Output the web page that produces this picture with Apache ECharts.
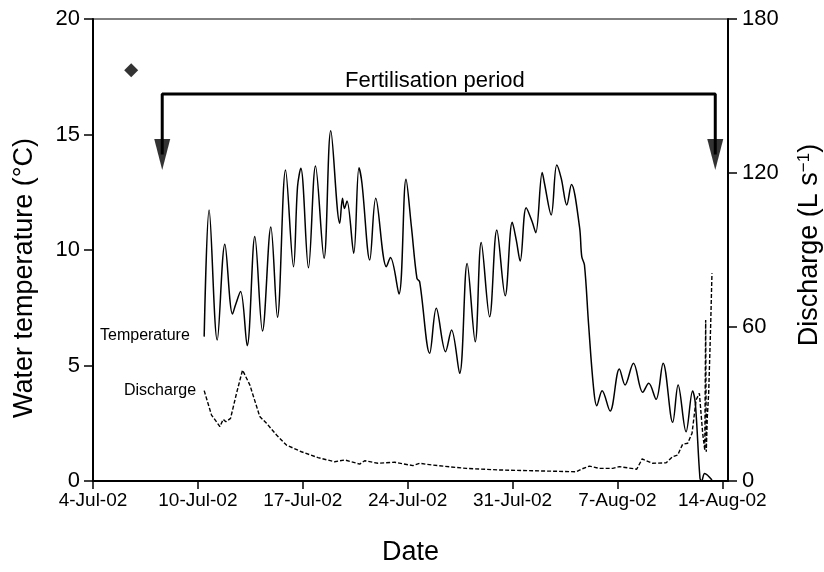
<!DOCTYPE html>
<html>
<head>
<meta charset="utf-8">
<script src="https://cdn.jsdelivr.net/npm/echarts@6/dist/echarts.min.js"></script>
<style>
  html, body { margin: 0; padding: 0; background: #fff; }
  #chart { width: 824px; height: 572px; }
</style>
</head>
<body>
<div id="chart"></div>
<script>
// tick labels on the date axis (one every 7 days)
var dateLabels = ['4-Jul-02', '10-Jul-02', '17-Jul-02', '24-Jul-02', '31-Jul-02', '7-Aug-02', '14-Aug-02'];

// water temperature, days after the first tick
var tempDay = [7.42, 7.75, 8.29, 8.8, 9.31, 9.51, 9.85, 10.29, 10.8, 11.31, 11.87, 12.31, 12.85, 13.38, 13.65, 13.87,
  14.38, 14.85, 15.42, 15.87, 16.47, 16.65, 16.78, 16.95, 17.4, 17.75, 17.95, 18.47, 18.87, 19.58, 19.85, 20.42,
  20.89, 21.25, 21.62, 21.8, 22.47, 22.91, 23.53, 23.93, 24.47, 24.97, 25.51, 25.91, 26.47, 26.95, 27.51, 27.98,
  28.25, 28.51, 28.91, 29.31, 29.55, 29.98, 30.13, 30.58, 30.95, 31.25, 31.62, 31.93, 32.47, 32.62, 32.8, 33.07,
  33.4, 33.62, 33.98, 34.51, 35.13, 35.51, 36.07, 36.69, 37.09, 37.58, 38.05, 38.69, 39.05, 39.58, 40.02, 40.2,
  40.51, 40.62, 40.82, 41.31];
var tempC = [6.25, 11.73, 6.1, 10.25, 7.23, 7.62, 8.2, 5.86, 10.58, 6.49, 11.0, 7.09, 13.46, 9.28, 12.74, 13.54,
  9.23, 13.64, 9.64, 15.16, 11.16, 12.24, 11.8, 12.12, 9.86, 13.56, 12.89, 9.57, 12.24, 9.28, 9.67, 8.1,
  13.06, 11.01, 8.77, 8.63, 5.53, 7.48, 5.6, 6.54, 4.66, 9.42, 6.03, 10.32, 7.11, 10.87, 8.02, 11.2,
  10.43, 9.52, 11.83, 11.22, 10.75, 13.36, 12.89, 11.52, 13.68, 13.1, 11.95, 12.84, 11.0, 9.71, 9.35, 6.83,
  4.08, 3.26, 3.91, 3.03, 4.85, 4.16, 5.1, 3.84, 4.23, 3.54, 5.1, 2.54, 4.16, 2.13, 3.9, 3.36,
  0.12, 0.0, 0.33, 0.04];

// discharge (L s-1)
var flowDay = [7.42, 7.91, 8.47, 8.69, 8.87, 9.18, 9.58, 9.98, 10.47, 11.13, 11.58, 12.25, 12.91, 13.91, 15.02,
  16.13, 16.8, 17.8, 18.13, 19.02, 20.13, 21.35, 21.8, 22.67, 24.91, 27.13, 29.33, 32.25, 32.58, 33.13, 33.8,
  34.69, 35.13, 36.29, 36.65, 37.35, 38.25, 38.69, 39.02, 39.35, 39.69, 39.98, 40.25, 40.47, 40.58, 40.69,
  40.83, 40.89, 40.93, 41.0, 41.09, 41.15, 41.22, 41.31];
var flowLs = [35.2, 25.7, 21.2, 24.0, 23.1, 24.4, 34.2, 43.2, 37.4, 25.1, 22.5, 17.9, 14.0, 11.4, 9.1,
  7.5, 8.2, 6.6, 7.9, 6.9, 7.3, 6.0, 6.9, 6.2, 4.9, 4.3, 4.0, 3.6, 4.6, 5.8, 4.9,
  4.9, 5.6, 4.6, 8.6, 6.9, 7.1, 9.5, 10.1, 14.3, 14.7, 18.6, 31.6, 34.2, 33.5, 18.6,
  12.0, 62.7, 11.4, 25.0, 34.2, 46.0, 60.0, 80.9];

// single marker in the upper left
var markerDay = [2.55];
var markerC = [17.78];

// fertilisation period bracket: start / end day, bar height, arrow position
var fertDays = [4.62, 41.53];
var fertBarC = 16.75;
var fertArrowC = 14.13;

var font = 'Liberation Sans, Arial, Helvetica, sans-serif';
var ink = '#000';

function pairs(xs, ys) {
  return xs.map(function (x, i) { return [x, ys[i]]; });
}

var chart = echarts.init(document.getElementById('chart'));

var option = {
  animation: false,
  textStyle: { fontFamily: font, color: ink },
  grid: {
    left: 93, right: 96, top: 19, bottom: 91,
    outerBoundsMode: 'none', containLabel: false,
    show: true, borderColor: '#000', borderWidth: 1
  },
  xAxis: {
    type: 'value',
    min: 0,
    max: 42.38,
    interval: 7,
    name: 'Date',
    nameLocation: 'middle',
    nameGap: 58,
    nameTextStyle: { fontSize: 27, color: ink, fontFamily: font },
    splitLine: { show: false },
    axisLine: { lineStyle: { color: ink, width: 2 } },
    axisTick: { length: 8, lineStyle: { color: ink, width: 1.5 } },
    axisLabel: {
      fontSize: 19, color: ink, margin: 10, showMaxLabel: false,
      formatter: function (v) {
        return (v % 7 === 0) ? (dateLabels[v / 7] || '') : '';
      }
    }
  },
  yAxis: [{
    type: 'value',
    min: 0,
    max: 20,
    interval: 5,
    name: 'Water temperature (°C)',
    nameLocation: 'middle',
    nameGap: 55,
    nameTextStyle: { fontSize: 27, color: ink, fontFamily: font, padding: [0, 56, 0, 0] },
    splitLine: { show: false },
    axisLine: { show: true, lineStyle: { color: ink, width: 2 } },
    axisTick: { show: true, length: 9, lineStyle: { color: ink, width: 1.5 } },
    axisLabel: { fontSize: 22, color: ink, margin: 13 }
  }, {
    type: 'value',
    position: 'right',
    min: 0,
    max: 180,
    interval: 60,
    name: 'Discharge (L s{sup|−1})',
    nameLocation: 'middle',
    nameRotate: 90,
    nameGap: 68,
    nameTextStyle: {
      fontSize: 27, color: ink, fontFamily: font, padding: [0, 0, 0, 10],
      rich: { sup: { fontSize: 17, color: ink, fontFamily: font, verticalAlign: 'top' } }
    },
    splitLine: { show: false },
    axisLine: { show: true, lineStyle: { color: ink, width: 2 } },
    axisTick: { show: true, length: 9, lineStyle: { color: ink, width: 1.5 } },
    axisLabel: { fontSize: 22, color: ink, margin: 14 }
  }],
  series: [{
    name: 'Temperature',
    type: 'line',
    data: pairs(tempDay, tempC),
    smooth: 0.35,
    showSymbol: false,
    lineStyle: { color: ink, width: 1.5 },
    z: 3
  }, {
    name: 'Discharge',
    type: 'line',
    yAxisIndex: 1,
    data: pairs(flowDay, flowLs),
    showSymbol: false,
    lineStyle: { color: ink, width: 1.4, type: [4, 2] },
    z: 2
  }, {
    type: 'scatter',
    data: pairs(markerDay, markerC),
    symbol: 'diamond',
    symbolSize: 14,
    itemStyle: { color: ink }
  }, {
    type: 'line',
    data: [[fertDays[0], fertArrowC], [fertDays[0], fertBarC], [fertDays[1], fertBarC], [fertDays[1], fertArrowC]],
    showSymbol: false,
    lineStyle: { color: ink, width: 3 },
    z: 4
  }, {
    type: 'scatter',
    data: fertDays.map(function (d) { return [d, fertArrowC]; }),
    symbol: 'triangle',
    symbolRotate: 180,
    symbolSize: [16, 31],
    itemStyle: { color: ink },
    z: 5
  }],
  graphic: [
    { type: 'text', left: 436 - 91, top: 70, style: { text: 'Fertilisation period', fontSize: 22, fontFamily: font, fill: ink } },
    { type: 'text', left: 100, top: 328, style: { text: 'Temperature', fontSize: 16, fontFamily: font, fill: ink } },
    { type: 'text', left: 124, top: 383, style: { text: 'Discharge', fontSize: 16, fontFamily: font, fill: ink } }
  ]
};

chart.setOption(option);
</script>
</body>
</html>
